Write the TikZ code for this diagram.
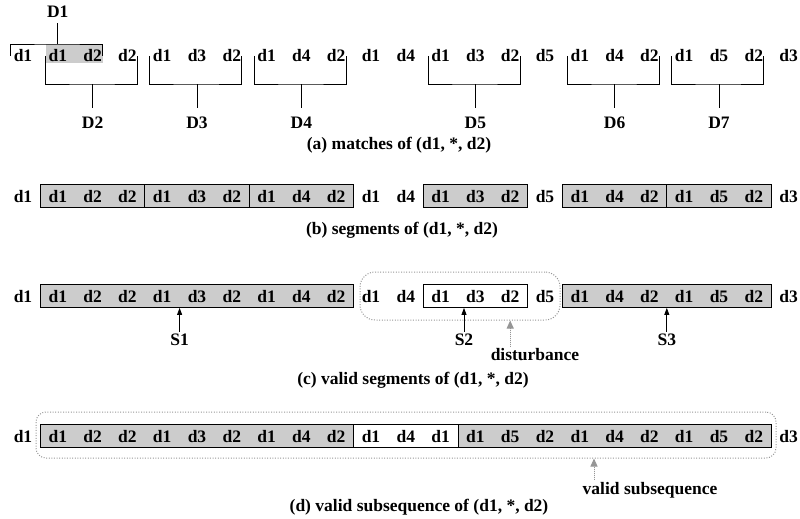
\documentclass[tikz,border=0pt]{standalone}
\usepackage{fontspec}
\setmainfont{Liberation Serif}
\usetikzlibrary{arrows.meta}
\definecolor{dotgray}{RGB}{204,204,204}
\definecolor{haze}{RGB}{150,150,150}

\begin{document}
\begin{tikzpicture}[x=1pt, y=-1pt,
  every node/.style={font=\fontsize{17.5}{20}\selectfont\bfseries, inner sep=0pt},
  cell/.style={draw=black, line width=.8pt, fill=dotgray, minimum height=23pt, minimum width=#1},
  gap/.style={cell=#1, fill=white},
  halo/.style={draw=haze, line width=1pt, dash pattern=on 1pt off 1.6pt, rounded corners=#1},
  brace/.style={line width=.7pt},
  up/.style={-{Triangle[length=7pt,width=5pt]}, line width=.8pt, shorten <=2pt},
  hint/.style={-{Triangle[length=8pt,width=7pt]}, draw=haze, fill=haze, line width=1pt,
    dash pattern=on 1pt off 1pt, shorten <=2pt}]
  \useasboundingbox (0,0) rectangle (800,519);

  % (a) matches
  \fill[dotgray] (45.8,44) rectangle (102.6,63);
  \foreach \t [count=\i from 0] in {d1,d1,d2,d2,d1,d3,d2,d1,d4,d2,d1,d4,d1,d3,d2,d5,d1,d4,d2,d1,d5,d2,d3}
    \node (a\i) at (23+34.8*\i,56) {\t};
  \node (D1) at (a1 |- 0,12) {D1};
  \draw[brace] ([xshift=-3pt]a0.west) |- (D1 |- 0,44) -| ([xshift=.5pt]a2.east);
  \draw[brace, shorten >=5pt] (D1 |- 0,44) -- (D1.south);
  \foreach \p/\m/\q/\l in {1/2/3/D2, 4/5/6/D3, 7/8/9/D4, 12/13/14/D5, 16/17/18/D6, 19/20/21/D7} {
    \node (\l) at (a\m |- 0,123) {\l};
    \draw[brace] ([xshift=-3pt]a\p.west) |- (\l |- 0,84) -| ([xshift=.5pt]a\q.east);
    \draw[brace, shorten >=9pt] (\l |- 0,84) -- (\l.north);
  }
  \node (cap-a) at (399,145) {(a) matches of (d1, *, d2)};

  % (b) segments
  \foreach \c in {2,5,8,13,17,20}
    \node[cell=104.4pt] (b-cell\c) at (23+34.8*\c,196) {};
  \foreach \t [count=\i from 0] in {d1,d1,d2,d2,d1,d3,d2,d1,d4,d2,d1,d4,d1,d3,d2,d5,d1,d4,d2,d1,d5,d2,d3}
    \node (b\i) at (23+34.8*\i,197) {\t};
  \node (cap-b) at (402,230) {(b) segments of (d1, *, d2)};

  % (c) valid segments
  \node[halo=15pt, minimum width=200pt, minimum height=48pt] (noise) at (460,296) {};
  \node[cell=313.2pt] (c-seg1) at (197,296) {};
  \node[gap=104.4pt] (c-seg2) at (475.4,296) {};
  \node[cell=208.8pt] (c-seg3) at (666.8,296) {};
  \foreach \t [count=\i from 0] in {d1,d1,d2,d2,d1,d3,d2,d1,d4,d2,d1,d4,d1,d3,d2,d5,d1,d4,d2,d1,d5,d2,d3}
    \node (c\i) at (23+34.8*\i,297) {\t};
  \node (s1) at (179.6,340) {S1};
  \node (s2) at (464,340) {S2};
  \node (s3) at (666.8,340) {S3};
  \draw[up] (s1) -- (s1 |- c-seg1.south);
  \draw[up] (s2) -- (s2 |- c-seg2.south);
  \draw[up] (s3) -- (s3 |- c-seg3.south);
  \node (dist) at (535,355) {disturbance};
  \draw[hint] (c14 |- dist.north) -- (c14 |- noise.south);
  \node (cap-c) at (413,380) {(c) valid segments of (d1, *, d2)};

  % (d) valid subsequence
  \node[halo=10pt, minimum width=740pt, minimum height=46pt] (valid) at (406,435) {};
  \node[cell=313.2pt] (d-seg1) at (197,436) {};
  \node[gap=104.4pt] (d-seg2) at (405.8,436) {};
  \node[cell=313.2pt] (d-seg3) at (614.6,436) {};
  \foreach \t [count=\i from 0] in {d1,d1,d2,d2,d1,d3,d2,d1,d4,d2,d1,d4,d1,d1,d5,d2,d1,d4,d2,d1,d5,d2,d3}
    \node (d\i) at (23+34.8*\i,437) {\t};
  \node (vs) at (650,490) {valid subsequence};
  \draw[hint] (594,0 |- vs.north) -- (594,0 |- valid.south);
  \node (cap-d) at (419,507) {(d) valid subsequence of (d1, *, d2)};
\end{tikzpicture}
\end{document}
